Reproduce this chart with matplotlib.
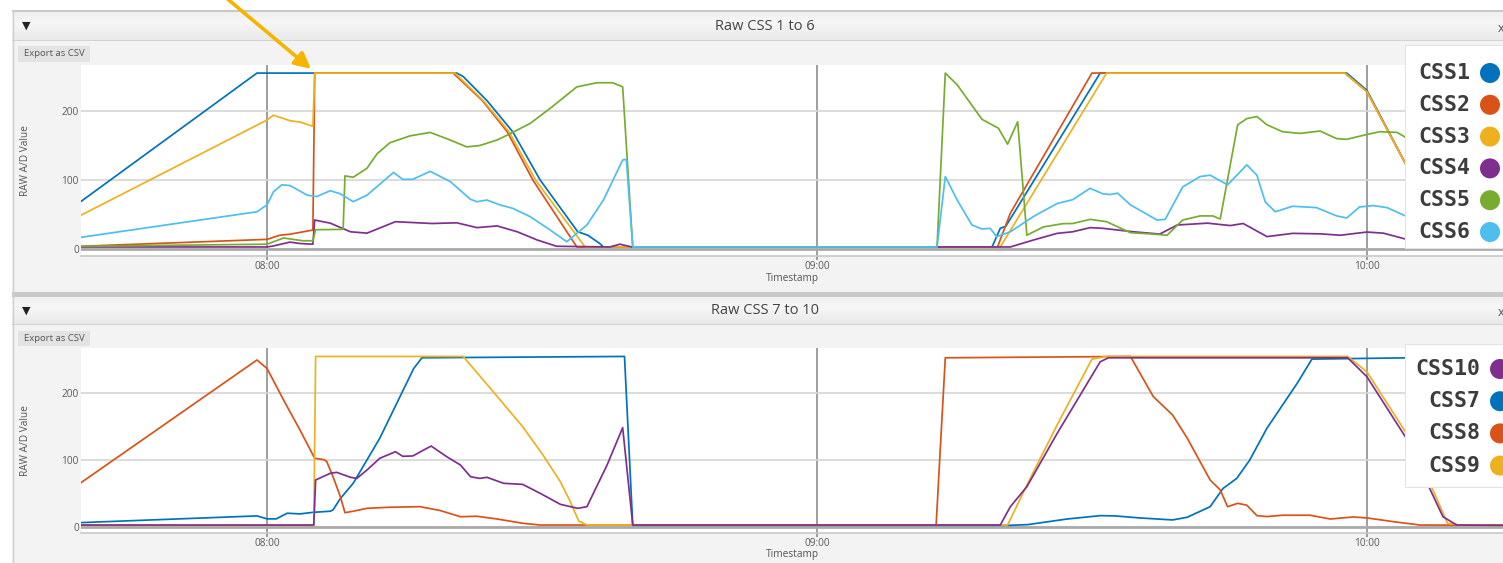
"""Raw CSS sun-sensor traces, two stacked panels (CSS 1-6 and CSS 7-10)."""

import matplotlib

matplotlib.use("Agg")
import matplotlib.dates as mdates
import matplotlib.pyplot as plt
import pandas as pd
from matplotlib.patches import Circle, Rectangle

W, H = 1503, 563
UI_FONT = ["Open Sans", "DejaVu Sans"]
BASE = pd.Timestamp("2021-01-01 08:00")

css1_t = [-20.3, -1.1, 20.7, 21.4, 24.0, 26.8, 29.8, 33.9, 35.0, 36.3, 36.7, 79.1, 80.0, 80.6,
          90.9, 117.8, 120.0, 124.2, 130.2, 135.5]
css1_v = [69, 255, 255, 250, 215, 170, 100, 25, 20, 8, 3, 3, 30, 33,
          255, 255, 230, 124, 3, 3]

css2_t = [-20.3, 0.0, 1.4, 2.5, 5.0, 5.2, 20.3, 23.5, 26.2, 29.0, 33.8, 79.7, 81.1, 90.0,
          117.6, 120.0, 124.2, 130.0, 135.5]
css2_v = [4, 14, 20, 21.5, 27.5, 255, 255, 215, 170, 100, 3, 3, 52, 255,
          255, 228, 124, 3, 3]

css3_t = [-20.3, 0.0, 0.7, 2.5, 3.6, 5.0, 5.2, 20.5, 23.6, 26.4, 29.3, 34.7, 80.0, 91.6,
          117.6, 120.0, 124.2, 130.3, 135.5]
css3_v = [49, 187, 194, 186, 184, 178, 255, 255, 215, 170, 100, 3, 3, 255,
          255, 228, 124, 3, 3]

css4_t = [-20.3, 0.0, 0.7, 2.5, 3.6, 5.0, 5.2, 6.9, 9.1, 10.9, 14.0, 18.0, 20.7, 22.9,
          25.1, 27.3, 29.5, 31.6, 37.4, 38.5, 39.8, 80.0, 81.1, 83.6, 86.2, 87.9, 89.8,
          91.2, 94.5, 97.4, 99.3, 102.6, 105.1, 106.5, 109.1, 111.9, 114.9, 117.1, 120.0,
          121.8, 124.2, 128.0, 135.5]
css4_v = [3, 3, 4.5, 10, 8, 7, 42, 37.5, 25, 23, 39.6, 37, 38, 31,
          33.5, 25, 13, 4, 3, 7, 3, 3, 3, 13, 22.7, 25, 31,
          30, 25, 21.7, 34.8, 37.5, 34, 37, 18, 22.7, 22, 20, 24.6,
          23, 14.5, 3, 3]

css5_t = [-20.3, 0.0, 1.8, 3.9, 5.0, 5.3, 8.3, 8.5, 9.4, 10.9, 12.0, 13.4, 15.6, 17.8,
          19.6, 21.8, 23.2, 25.1, 26.2, 28.7, 30.9, 33.8, 36.0, 37.7, 38.8, 39.9, 73.1,
          74.0, 75.3, 78.0, 79.8, 80.8, 81.9, 82.9, 84.7, 86.8, 87.9, 89.8, 91.6, 94.2,
          96.3, 98.2, 99.9, 101.8, 103.2, 104.0, 105.9, 106.9, 108.0, 109.1, 110.8, 112.7,
          114.9, 116.7, 117.8, 120.0, 121.4, 123.3, 124.2, 135.5]
css5_v = [4, 7, 16, 12, 12, 28, 28.5, 106, 104, 117, 138, 154, 164, 169,
          160, 148, 150, 158, 165, 182, 204, 235, 241, 241, 235, 3, 3,
          255, 238, 188, 175, 152, 184.5, 20, 32, 36.7, 37, 43, 39.6, 23.7,
          22, 20, 42, 48, 48, 43.5, 180, 189, 192, 180, 170, 167.6,
          171, 160, 159, 166, 170, 169, 162, 150]

css6_t = [-20.3, -1.1, 0.0, 0.7, 1.6, 2.5, 4.4, 5.4, 6.9, 8.0, 9.4, 10.9, 13.8, 14.8,
          15.9, 17.8, 20.0, 22.2, 22.9, 24.0, 25.4, 26.8, 28.7, 30.9, 32.7, 33.8, 34.9,
          36.7, 38.8, 39.2, 39.9, 73.1, 74.0, 75.3, 76.9, 78.0, 78.9, 79.6, 81.1, 83.6,
          86.2, 87.9, 89.8, 91.2, 92.0, 92.8, 94.2, 97.1, 98.0, 99.9, 101.8, 102.9, 104.8,
          106.9, 108.0, 108.9, 110.0, 111.9, 114.5, 116.7, 117.8, 119.2, 120.7, 122.2,
          124.2, 135.5]
css6_v = [17, 54, 64, 83, 93, 92, 78, 76, 84.5, 80, 68.6, 78, 111, 101,
          101, 112.6, 97.6, 72, 68.6, 71, 64, 59, 47, 27.5, 10.6, 22.7, 34.8,
          71, 129, 130, 3, 3, 105, 71, 35, 29, 30, 18, 25, 47,
          66, 71.5, 88, 80, 79, 81, 64, 42, 43, 90, 105, 107, 93,
          122, 107, 68.6, 54, 62, 60, 48, 45, 61, 63, 60,
          48, 40]

css7_t = [-20.3, -1.1, 0.0, 1.0, 2.2, 3.6, 5.0, 6.9, 7.2, 8.0, 9.4, 12.3, 16.0, 16.9,
          39.0, 39.9, 81.1, 83.0, 87.3, 90.9, 92.5, 95.2, 98.8, 100.4, 102.9, 104.3, 105.8,
          107.2, 109.1, 110.8, 112.4, 114.0, 135.5]
css7_v = [7, 17, 12.6, 12.6, 21, 20, 22.3, 24, 26, 43, 65.7, 133, 237, 253,
          255, 3, 3, 4, 12.4, 17.4, 17, 14, 11, 15, 30.8, 58, 73,
          100, 148, 182.5, 215, 251, 255]

css8_t = [-20.3, -1.1, 0.0, 1.8, 3.6, 5.2, 6.2, 6.5, 7.2, 8.0, 8.5, 9.4, 10.9, 13.1,
          16.7, 18.9, 21.1, 22.9, 25.1, 27.9, 29.8, 73.0, 74.0, 94.2, 96.7, 98.8, 100.4,
          102.9, 104.0, 104.8, 105.9, 106.9, 108.0, 109.1, 110.8, 113.8, 116.0, 118.5,
          120.0, 122.9, 125.8, 135.5]
css8_v = [66.6, 249.7, 237, 190, 145, 103, 101, 98.5, 75.5, 45.7, 21.8, 24, 28.3, 29.8,
          30.8, 25, 15.8, 16.5, 12.4, 6, 3.4, 3.4, 253, 255, 195, 167.6, 133,
          70.6, 55.7, 30.8, 35.8, 33, 17.4, 16, 18, 18, 12.4, 15.4,
          14, 8.4, 3.4, 3]

css9_t = [-20.3, 5.1, 5.3, 21.4, 24.7, 27.9, 30.1, 32.0, 33.1, 34.0, 34.9, 80.8, 82.9,
          86.2, 90.0, 91.6, 117.9, 120.0, 124.2, 127.2, 128.8, 130.2, 135.5]
css9_v = [3, 3, 255, 255, 202, 150, 108, 68, 38, 9.4, 3.4, 3.4, 63,
          152.7, 251, 255, 255, 232, 142.7, 55.7, 6, 3.4, 3]

css10_t = [-20.3, 5.1, 5.3, 6.9, 7.6, 9.1, 9.8, 10.9, 12.3, 14.0, 14.8, 15.9, 17.9, 19.6,
           21.1, 22.2, 23.2, 24.0, 25.8, 27.9, 29.8, 32.0, 33.9, 34.9, 37.1, 38.8, 39.9,
           80.0, 81.1, 82.9, 86.2, 90.9, 91.8, 117.9, 120.0, 124.2, 128.3, 129.8, 135.5]
css10_v = [3.4, 3.4, 70.6, 80.6, 82, 74.6, 73, 85.5, 103, 112.8, 106, 106.5, 121.3, 105.4,
           93, 75.5, 73, 74.6, 65.7, 64, 50.7, 34.3, 28.3, 30.8, 93, 148.7, 3.4,
           3.4, 30.8, 60.6, 140, 247, 253, 253, 224.8, 135, 15.8, 3.4, 3]

COLORS = {
    "CSS1": "#0072BD", "CSS2": "#D95319", "CSS3": "#EDB120",
    "CSS4": "#7E2F8E", "CSS5": "#77AC30", "CSS6": "#4DBEEE",
    "CSS7": "#0072BD", "CSS8": "#D95319", "CSS9": "#EDB120", "CSS10": "#7E2F8E",
}

top_series = [("CSS1", css1_t, css1_v), ("CSS2", css2_t, css2_v), ("CSS3", css3_t, css3_v),
              ("CSS4", css4_t, css4_v), ("CSS5", css5_t, css5_v), ("CSS6", css6_t, css6_v)]
bottom_series = [("CSS7", css7_t, css7_v), ("CSS8", css8_t, css8_v),
                 ("CSS9", css9_t, css9_v), ("CSS10", css10_t, css10_v)]
top_legend = ["CSS1", "CSS2", "CSS3", "CSS4", "CSS5", "CSS6"]
bottom_legend = ["CSS10", "CSS7", "CSS8", "CSS9"]


def to_time(minutes):
    return BASE + pd.to_timedelta(minutes, unit="min")


def px_axes(fig, left, top, right, bottom, **kw):
    return fig.add_axes([left / W, 1 - bottom / H, (right - left) / W, (bottom - top) / H], **kw)


def shade(v):
    return (v, v, v)


def draw_chrome(bg, top, border, head_bottom, content_bottom, title, button_top, button_h):
    # shadow border above the header
    bg.add_patch(Rectangle((12, top), W - 12, border, color="#C8C8C8", lw=0))
    # header with a soft vertical gradient
    h0 = top + border
    n = int(head_bottom - h0)
    for i in range(n):
        f = i / max(n - 1, 1)
        v = 0.915 + 0.05 * (1 - abs(f - 0.35) / 0.65)
        bg.add_patch(Rectangle((12, h0 + i), W - 12, 1.05, color=shade(v), lw=0))
    bg.add_patch(Rectangle((12, head_bottom), W - 12, 1.2, color="#D2D2D2", lw=0))
    bg.add_patch(Rectangle((12, head_bottom + 1.2), W - 12, content_bottom - head_bottom - 1.2,
                           color="#F3F3F3", lw=0))
    bg.plot([12.5, 12.5], [top, content_bottom], color="#CFCFCF", lw=1)
    yc = (h0 + head_bottom) / 2
    bg.text(765, yc, title, ha="center", va="center", fontsize=10.5, color="#444444", family=UI_FONT)
    bg.text(26, yc, "\u25bc", ha="center", va="center", fontsize=8, color="#222222",
            family=["DejaVu Sans"])
    bg.text(1498, yc + 2, "x", ha="left", va="center", fontsize=9, color="#555555", family=UI_FONT)
    bg.add_patch(Rectangle((18, button_top), 72, button_h, color="#E3E3E3", lw=0))
    bg.text(54, button_top + button_h / 2, "Export as CSV", ha="center", va="center",
            fontsize=6.8, color="#555555", family=UI_FONT)


def draw_plot(ax, series, ylim, plot_h):
    for name, t, v in series:
        ax.plot(to_time(t), v, color=COLORS[name], lw=1.25, solid_joinstyle="round")
    ax.set_xlim(to_time(-20.3), to_time(134.85))
    ax.set_ylim(*ylim)
    ax.set_yticks([0, 100, 200])
    ax.xaxis.set_major_locator(mdates.HourLocator())
    ax.xaxis.set_major_formatter(mdates.DateFormatter("%H:%M"))
    ax.set_axisbelow(True)
    ax.yaxis.grid(True, color="#D5D5D5", lw=1.2)
    ax.xaxis.grid(True, color="#8E8E8E", lw=1.2)
    ax.axhline(0, color="#AAAAAA", lw=2.0, zorder=1)
    for side in ("top", "left", "right"):
        ax.spines[side].set_visible(False)
    ax.spines["bottom"].set_color("#C8C8C8")
    ax.spines["bottom"].set_linewidth(1.2)
    ax.tick_params(axis="x", length=3, width=1.2, color="#8E8E8E", pad=0.5,
                   labelsize=7.3, labelcolor="#5A5A5A")
    ax.tick_params(axis="y", length=0, pad=1.5, labelsize=7.3, labelcolor="#5A5A5A")
    for lab in ax.get_xticklabels() + ax.get_yticklabels():
        lab.set_family(UI_FONT)
    ax.set_xlabel("Timestamp", fontsize=7.3, color="#555555", family=UI_FONT, va="center")
    ax.xaxis.set_label_coords(0.5, -22 / plot_h)
    ax.set_ylabel("RAW A/D Value", fontsize=7.3, color="#555555", family=UI_FONT, va="center")
    ax.yaxis.set_label_coords(-55 / 1422, 0.5)


def draw_legend(ov, names, box, y0, dy, text_x, dot_x):
    x, y, w, h = box
    ov.add_patch(Rectangle((x, y), w, h, facecolor="white", edgecolor="#E4E4E4", lw=0.8))
    for i, name in enumerate(names):
        yy = y0 + i * dy
        ov.text(text_x, yy, name, ha="right", va="center", fontsize=15.5, fontweight="bold",
                color="#3C3C3C", family=["DejaVu Sans Mono"])
        ov.add_patch(Circle((dot_x, yy), 10, color=COLORS[name], lw=0))


def main():
    fig = plt.figure(figsize=(W / 100, H / 100), dpi=100)
    fig.patch.set_facecolor("white")

    bg = fig.add_axes([0, 0, 1, 1], zorder=0)
    draw_chrome(bg, 10, 2, 40, 292, "Raw CSS 1 to 6", 46, 16)
    draw_chrome(bg, 292, 5, 324, 563, "Raw CSS 7 to 10", 331, 15)
    bg.set_xlim(0, W)
    bg.set_ylim(H, 0)
    bg.axis("off")

    ax_top = px_axes(fig, 81, 65, 1503, 256, zorder=1)
    draw_plot(ax_top, top_series, (-10.1, 266.7), 191)
    ax_bot = px_axes(fig, 81, 348, 1503, 533, zorder=1)
    draw_plot(ax_bot, bottom_series, (-8.5, 267.6), 185)

    ov = fig.add_axes([0, 0, 1, 1], zorder=10)
    ov.patch.set_alpha(0)
    draw_legend(ov, top_legend, (1405, 45, 100, 203), 73, 31.8, 1470, 1490)
    draw_legend(ov, bottom_legend, (1405, 344, 100, 143), 369, 32.2, 1480, 1500)
    ov.annotate("", xy=(311, 69), xytext=(224, -4), annotation_clip=False,
                arrowprops=dict(arrowstyle="-|>", color="#F5B400", lw=2.6, mutation_scale=24,
                                shrinkA=0, shrinkB=0))
    ov.set_xlim(0, W)
    ov.set_ylim(H, 0)
    ov.axis("off")

    fig.savefig("out.png", dpi=100)
    plt.close(fig)


if __name__ == "__main__":
    main()
